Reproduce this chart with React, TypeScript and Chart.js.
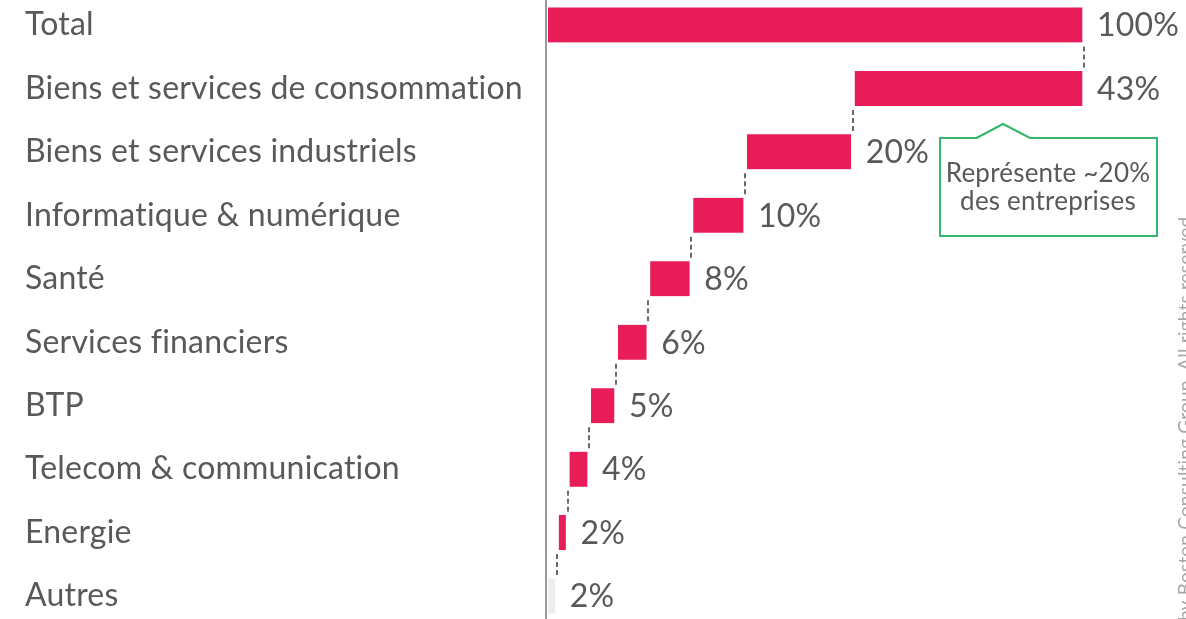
import React, { useEffect, useRef } from 'react';
import { Chart, registerables } from 'chart.js';

Chart.register(...registerables);

const categories = [
  'Total',
  'Biens et services de consommation',
  'Biens et services industriels',
  'Informatique & numérique',
  'Santé',
  'Services financiers',
  'BTP',
  'Telecom & communication',
  'Energie',
  'Autres',
];
const shares = [100, 43, 20, 10, 8, 6, 5, 4, 2, 2];
const valueLabels = ['100%', '43%', '20%', '10%', '8%', '6%', '5%', '4%', '2%', '2%'];
const barColors = ['#E81C58', '#E81C58', '#E81C58', '#E81C58', '#E81C58', '#E81C58', '#E81C58', '#E81C58', '#E81C58', '#EEEEEE'];
const noteLines = ['Représente ~20%', 'des entreprises'];
const copyrightText = 'by Boston Consulting Group. All rights reserved';

const FONT = 'Lato, "DejaVu Sans", sans-serif';
const TEXT = '#595959';
const TOP_SHIFT = 26; // canvas is shifted up by this many px
const CANVAS_H = 673;

// waterfall ranges built from the shares
const ranges: [number, number][] = [];
(() => {
  ranges.push([0, shares[0]]);
  let end = shares[0];
  for (let i = 1; i < shares.length; i++) {
    ranges.push([end - shares[i], end]);
    end -= shares[i];
  }
})();

const overlayPlugin = {
  id: 'overlay',
  beforeDraw(chart: any) {
    try {
      (chart.ctx as any).letterSpacing = '0.2px';
    } catch (e) {}
  },
  afterDatasetsDraw(chart: any) {
    const ctx = chart.ctx;
    const xs = chart.scales.x;
    const meta = chart.getDatasetMeta(0);
    const H = chart.height;
    const half = 35 / 2;
    ctx.save();

    // vertical axis line
    ctx.strokeStyle = '#9a9a9a';
    ctx.lineWidth = 2;
    ctx.beginPath();
    ctx.moveTo(546, 0);
    ctx.lineTo(546, H);
    ctx.stroke();

    // connectors
    ctx.strokeStyle = '#6a6a6a';
    ctx.lineWidth = 2;
    ctx.setLineDash([5, 3]);
    for (let i = 0; i < meta.data.length - 1; i++) {
      const x = Math.round(xs.getPixelForValue(ranges[i + 1][1]) - 2);
      const y1 = meta.data[i].y + half + 4;
      const y2 = meta.data[i + 1].y - half - 3;
      ctx.beginPath();
      ctx.moveTo(x, y1);
      ctx.lineTo(x, y2);
      ctx.stroke();
    }
    ctx.setLineDash([]);

    // value labels
    ctx.fillStyle = TEXT;
    ctx.font = `32px ${FONT}`;
    ctx.textAlign = 'left';
    ctx.textBaseline = 'middle';
    meta.data.forEach((bar: any, i: number) => {
      const xEnd = xs.getPixelForValue(ranges[i][1]);
      ctx.fillText(valueLabels[i], xEnd + 11, bar.y + 1);
    });

    // annotation box
    const t = TOP_SHIFT;
    ctx.strokeStyle = '#35B56E';
    ctx.lineWidth = 2;
    ctx.beginPath();
    ctx.moveTo(976.5, 138 + t);
    ctx.lineTo(1003, 124 + t);
    ctx.lineTo(1030, 138 + t);
    ctx.lineTo(1157, 138 + t);
    ctx.lineTo(1157, 236 + t);
    ctx.lineTo(940, 236 + t);
    ctx.lineTo(940, 138 + t);
    ctx.closePath();
    ctx.stroke();

    ctx.fillStyle = TEXT;
    ctx.font = `26px ${FONT}`;
    ctx.textAlign = 'center';
    ctx.textBaseline = 'alphabetic';
    ctx.fillText(noteLines[0], 1048, 181.5 + t);
    ctx.fillText(noteLines[1], 1048, 210 + t);

    // copyright (rotated)
    ctx.translate(1192, 621 + t);
    ctx.rotate(-Math.PI / 2);
    ctx.fillStyle = '#a8a8a8';
    ctx.font = `19px ${FONT}`;
    ctx.textAlign = 'left';
    ctx.textBaseline = 'alphabetic';
    ctx.fillText(copyrightText, 0, 0);

    ctx.restore();
  },
};

export default function App() {
  const ref = useRef<HTMLCanvasElement | null>(null);

  useEffect(() => {
    if (!ref.current) return;
    const chart = new Chart(ref.current, {
      type: 'bar',
      data: {
        labels: categories,
        datasets: [
          {
            data: ranges as any,
            backgroundColor: barColors,
            borderColor: '#ffffff',
            borderWidth: { top: 0, right: 4, bottom: 0, left: 0 } as any,
            borderSkipped: false,
            barThickness: 35,
          },
        ],
      },
      options: {
        indexAxis: 'y',
        responsive: false,
        animation: false,
        layout: { padding: { left: 25, right: 100, top: 0, bottom: 0 } },
        plugins: {
          legend: { display: false },
          tooltip: { enabled: false },
        },
        scales: {
          x: {
            type: 'linear',
            min: 0,
            max: 100,
            display: false,
          },
          y: {
            type: 'category',
            grid: { display: false },
            border: { display: false },
            ticks: {
              crossAlign: 'far',
              color: TEXT,
              font: { family: FONT, size: 32 },
              padding: 0,
            },
            afterFit(scale: any) {
              scale.width = 523;
            },
          },
        },
      },
      plugins: [overlayPlugin],
    });
    return () => chart.destroy();
  }, []);

  return (
    <div style={{ position: 'fixed', left: 0, top: 0, width: 1186, height: 619, overflow: 'hidden', background: '#fff' }}>
      <canvas
        ref={ref}
        width={1186}
        height={CANVAS_H}
        style={{ position: 'absolute', left: 0, top: -TOP_SHIFT, width: 1186, height: CANVAS_H }}
      />
    </div>
  );
}
